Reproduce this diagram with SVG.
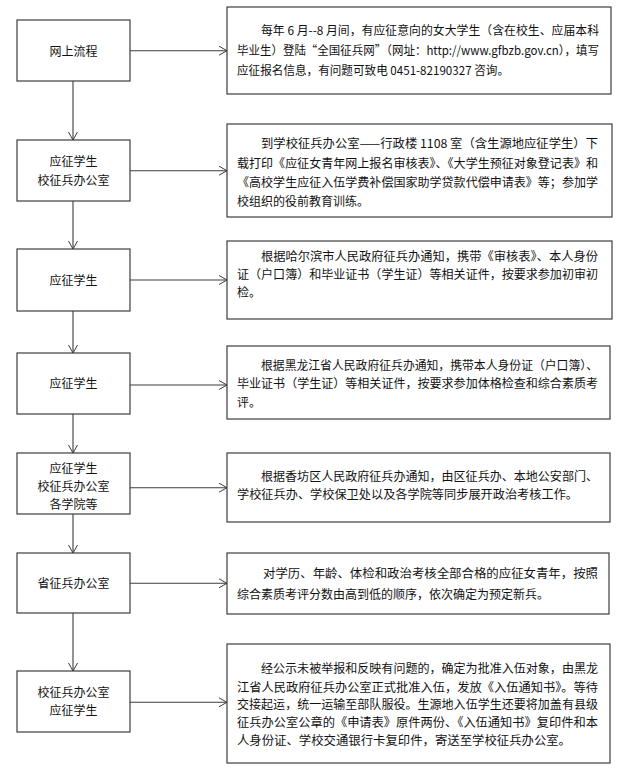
<svg xmlns="http://www.w3.org/2000/svg" width="631" height="784" viewBox="0 0 631 784">
<style>
.b{fill:#fff;stroke:#3c3c3c;stroke-width:1.2}
text{font-family:"Noto Sans CJK SC","Noto Sans",sans-serif;font-size:12px;fill:#111}
.c{text-anchor:middle}
.l{fill:none;stroke:#3c3c3c;stroke-width:1.1}
</style>
<defs>
<marker id="a" markerUnits="userSpaceOnUse" markerWidth="10" markerHeight="10" viewBox="0 0 10 10" refX="9" refY="5" orient="auto">
<path d="M1,0.5 L9,5 L1,9.5" fill="none" stroke="#3c3c3c" stroke-width="1"/>
</marker>
</defs>
<rect width="631" height="784" fill="#fff"/>
<g id="connectors">
<path class="l" d="M130,50.7H227" marker-end="url(#a)"/>
<path class="l" d="M130,170.7H227" marker-end="url(#a)"/>
<path class="l" d="M130,280H227" marker-end="url(#a)"/>
<path class="l" d="M130,385H227" marker-end="url(#a)"/>
<path class="l" d="M130,487.7H227" marker-end="url(#a)"/>
<path class="l" d="M130,583.3H227" marker-end="url(#a)"/>
<path class="l" d="M130,702.3H227" marker-end="url(#a)"/>
<path class="l" d="M73,81V140" marker-end="url(#a)"/>
<path class="l" d="M73,201V249" marker-end="url(#a)"/>
<path class="l" d="M73,311V353" marker-end="url(#a)"/>
<path class="l" d="M73,414V453" marker-end="url(#a)"/>
<path class="l" d="M73,514V553" marker-end="url(#a)"/>
<path class="l" d="M73,613V671" marker-end="url(#a)"/>
</g>
<g id="n1"><rect class="b" x="17" y="20" width="113" height="61"/><text class="c" x="73.5" y="56">网上流程</text></g>
<g id="n2"><rect class="b" x="17" y="140" width="113" height="61"/><text class="c" x="73.5" y="166">应征学生</text><text class="c" x="73.5" y="185">校征兵办公室</text></g>
<g id="n3"><rect class="b" x="17" y="249" width="113" height="62"/><text class="c" x="73.5" y="285">应征学生</text></g>
<g id="n4"><rect class="b" x="17" y="353" width="113" height="61"/><text class="c" x="73.5" y="388">应征学生</text></g>
<g id="n5"><rect class="b" x="17" y="453" width="113" height="61"/><text class="c" x="73.5" y="472.5">应征学生</text><text class="c" x="73.5" y="491">校征兵办公室</text><text class="c" x="73.5" y="509">各学院等</text></g>
<g id="n6"><rect class="b" x="17" y="553" width="113" height="60"/><text class="c" x="73.5" y="588">省征兵办公室</text></g>
<g id="n7"><rect class="b" x="17" y="671" width="113" height="61"/><text class="c" x="73.5" y="696.5">校征兵办公室</text><text class="c" x="73.5" y="714.5">应征学生</text></g>
<g id="r1"><rect class="b" x="227" y="7" width="384" height="87"/>
<text x="261" y="34.5" textLength="338" lengthAdjust="spacingAndGlyphs">每年 6 月--8 月间，有应征意向的女大学生（含在校生、应届本科</text>
<text x="237" y="55" textLength="362" lengthAdjust="spacingAndGlyphs">毕业生）登陆“全国征兵网”（网址：http://www.gfbzb.gov.cn），填写</text>
<text x="237" y="75" textLength="272" lengthAdjust="spacingAndGlyphs">应征报名信息，有问题可致电 0451-82190327 咨询。</text></g>
<g id="r2"><rect class="b" x="227" y="124" width="385" height="93"/>
<text x="261" y="147.5" textLength="337" lengthAdjust="spacingAndGlyphs">到学校征兵办公室——行政楼 1108 室（含生源地应征学生）下</text>
<text x="237" y="167.5" textLength="361" lengthAdjust="spacingAndGlyphs">载打印《应征女青年网上报名审核表》、《大学生预征对象登记表》和</text>
<text x="237" y="187" textLength="361" lengthAdjust="spacingAndGlyphs">《高校学生应征入伍学费补偿国家助学贷款代偿申请表》等；参加学</text>
<text x="237" y="205.5">校组织的役前教育训练。</text></g>
<g id="r3"><rect class="b" x="227" y="241" width="385" height="78"/>
<text x="261" y="260.5" textLength="337" lengthAdjust="spacingAndGlyphs">根据哈尔滨市人民政府征兵办通知，携带《审核表》、本人身份</text>
<text x="237" y="278.5" textLength="361" lengthAdjust="spacingAndGlyphs">证（户口簿）和毕业证书（学生证）等相关证件，按要求参加初审初</text>
<text x="237" y="296.5">检。</text></g>
<g id="r4"><rect class="b" x="227" y="346" width="383" height="73"/>
<text x="261" y="369.5" textLength="337" lengthAdjust="spacingAndGlyphs">根据黑龙江省人民政府征兵办通知，携带本人身份证（户口簿）、</text>
<text x="237" y="388" textLength="361" lengthAdjust="spacingAndGlyphs">毕业证书（学生证）等相关证件，按要求参加体格检查和综合素质考</text>
<text x="237" y="406.5">评。</text></g>
<g id="r5"><rect class="b" x="227" y="453" width="383" height="69"/>
<text x="261" y="480.5" textLength="337" lengthAdjust="spacingAndGlyphs">根据香坊区人民政府征兵办通知，由区征兵办、本地公安部门、</text>
<text x="237" y="498.5" textLength="341" lengthAdjust="spacingAndGlyphs">学校征兵办、学校保卫处以及各学院等同步展开政治考核工作。</text></g>
<g id="r6"><rect class="b" x="227" y="553" width="382" height="61"/>
<text x="263" y="578" textLength="335" lengthAdjust="spacingAndGlyphs">对学历、年龄、体检和政治考核全部合格的应征女青年，按照</text>
<text x="237" y="598.5">综合素质考评分数由高到低的顺序，依次确定为预定新兵。</text></g>
<g id="r7"><rect class="b" x="227" y="644" width="383" height="119"/>
<text x="261" y="672.5" textLength="337" lengthAdjust="spacingAndGlyphs">经公示未被举报和反映有问题的，确定为批准入伍对象，由黑龙</text>
<text x="237" y="691.5" textLength="361" lengthAdjust="spacingAndGlyphs">江省人民政府征兵办公室正式批准入伍，发放《入伍通知书》。等待</text>
<text x="237" y="709" textLength="361" lengthAdjust="spacingAndGlyphs">交接起运，统一运输至部队服役。生源地入伍学生还要将加盖有县级</text>
<text x="237" y="726.5" textLength="361" lengthAdjust="spacingAndGlyphs">征兵办公室公章的《申请表》原件两份、《入伍通知书》复印件和本</text>
<text x="237" y="744.5" textLength="334" lengthAdjust="spacingAndGlyphs">人身份证、学校交通银行卡复印件，寄送至学校征兵办公室。</text></g>
</svg>
